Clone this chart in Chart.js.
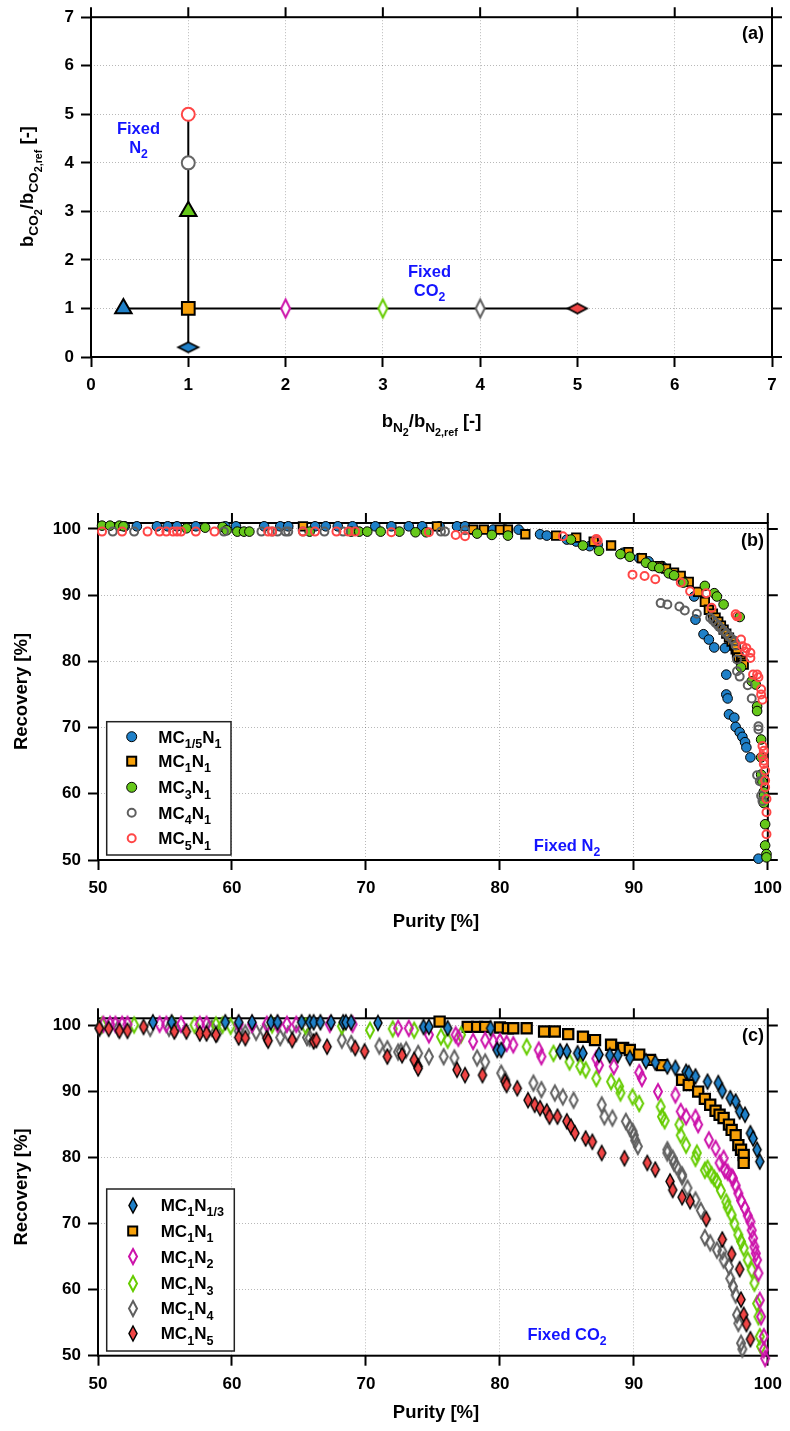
<!DOCTYPE html>
<html><head><meta charset="utf-8">
<script src="https://cdn.jsdelivr.net/npm/chart.js@4/dist/chart.umd.min.js"></script>
<style>
html,body{margin:0;padding:0;background:#fff;}
body{width:790px;height:1431px;position:relative;overflow:hidden;}
canvas{position:absolute;left:0;}
</style></head><body>
<canvas id="ca" width="790" height="450" style="top:0px;width:790px;height:450px"></canvas>
<canvas id="cb" width="790" height="480" style="top:460px;width:790px;height:480px"></canvas>
<canvas id="cc" width="790" height="481" style="top:950px;width:790px;height:481px"></canvas>
<script>
// ================= DATA =================
// Panel (a): parameter map
const a_ticks = [0,1,2,3,4,5,6,7];
const a_bN2  = [1, 1, 1, 1, 1, 0.333, 2, 3, 4, 5];
const a_bCO2 = [0.2, 1, 3, 4, 5, 1, 1, 1, 1, 1];
const a_lineFixedN2_x = [1, 1];
const a_lineFixedN2_y = [0.2, 5];
const a_lineFixedCO2_x = [0.333, 5];
const a_lineFixedCO2_y = [1, 1];

// Panel (b): Fixed N2  (purity %, recovery %)
const pr_ticks = [50,60,70,80,90,100];
const b_MC15N1_pur = [52.0,52.9,54.4,55.2,55.9,57.3,59.5,60.3,62.4,63.6,64.2,66.2,67.0,67.9,69.0,70.7,71.9,73.2,74.2,75.5,76.8,77.4,79.5,80.4,81.4,83.0,83.5,85.0,85.7,86.7,87.3,89.2,90.4,91.1,92.1,92.9,93.6,94.5,94.6,95.2,95.6,96.0,96.8,96.9,96.9,97.0,97.1,97.5,97.6,97.9,98.1,98.3,98.4,98.7,99.3];
const b_MC15N1_rec = [100.4,100.4,100.4,100.4,100.4,100.4,100.4,100.4,100.4,100.4,100.4,100.4,100.4,100.4,100.4,100.4,100.4,100.4,100.4,100.4,100.4,100.4,99.9,99.9,99.9,99.2,99.0,98.4,98.1,97.4,97.6,96.4,95.6,95.1,94.4,93.1,92.4,89.8,86.3,84.1,83.3,82.1,82.0,78.0,75.0,74.4,72.0,71.5,70.1,69.3,68.6,67.8,67.0,65.5,50.2];
const b_MC1N1_pur = [65.3,75.3,78.0,78.8,80.0,80.6,81.9,84.2,85.7,87.0,88.3,89.6,90.6,91.9,92.4,93.0,93.5,94.1,94.8,95.3,95.6,95.9,96.1,96.3,96.5,96.7,96.9,97.1,97.3,97.5,97.6,97.7,97.8,98.0,98.1,98.2];
const b_MC1N1_rec = [100.4,100.4,99.9,99.9,99.9,99.9,99.2,99.0,98.7,98.1,97.5,96.5,95.6,94.4,94.0,93.4,92.9,92.0,90.5,89.0,87.8,87.2,86.6,86.0,85.4,84.8,84.2,83.6,83.0,82.4,81.8,81.2,80.6,80.2,79.8,79.5];
const b_MC3N1_pur = [50.3,50.9,51.6,51.9,56.6,58.0,59.3,59.6,60.4,60.9,61.3,65.8,68.9,69.5,70.1,71.1,72.5,73.7,74.5,78.3,79.4,80.6,85.3,86.2,87.4,89.0,89.7,90.9,91.4,91.9,92.6,93.0,93.7,95.3,96.0,96.2,96.7,97.9,98.0,98.8,99.1,99.2,99.2,99.5,99.5,99.5,99.6,99.7,99.7,99.7,99.8,99.8,99.9,99.9];
const b_MC3N1_rec = [100.5,100.5,100.5,100.4,100.1,100.2,100.3,99.8,99.6,99.6,99.6,99.6,99.6,99.6,99.6,99.6,99.6,99.5,99.5,99.3,99.1,99.0,98.4,97.5,96.7,96.2,95.8,94.9,94.4,94.1,93.3,93.0,91.9,91.4,90.3,89.8,88.6,86.7,79.1,77.0,76.5,73.2,72.5,68.2,65.5,62.9,61.8,60.3,59.7,58.6,55.4,52.2,50.9,50.4];
const b_MC4N1_pur = [51.1,52.7,59.4,62.2,63.0,63.4,64.0,64.2,65.3,66.9,68.3,75.6,75.9,77.4,92.0,92.5,93.4,93.8,94.7,95.7,95.9,96.1,96.3,96.5,96.7,96.9,97.1,97.3,97.5,97.6,97.7,97.7,97.9,98.5,98.8,99.3,99.3,99.2,99.4,99.5,99.6];
const b_MC4N1_rec = [99.6,99.6,99.6,99.6,99.6,99.6,99.6,99.6,99.6,99.6,99.6,99.6,99.6,99.8,88.8,88.6,88.3,87.7,87.2,86.6,86.2,85.8,85.4,85.0,84.6,84.2,83.8,83.4,83.0,82.4,80.3,78.5,77.7,76.4,74.4,70.2,69.7,62.8,61.9,59.7,58.9];
const b_MC5N1_pur = [50.3,51.8,53.7,54.6,55.1,55.6,55.9,56.2,57.3,58.7,62.7,63.0,65.3,66.2,67.8,68.7,69.2,71.9,74.7,76.7,77.4,84.7,87.2,87.3,89.9,90.8,91.6,93.5,94.2,95.4,95.8,97.6,97.7,98.0,98.1,98.3,98.4,98.7,98.7,98.9,99.2,99.3,99.5,99.5,99.6,99.6,99.6,99.7,99.7,99.7,99.8,99.8,99.8,99.9,99.9,99.9];
const b_MC5N1_rec = [99.6,99.6,99.6,99.6,99.6,99.6,99.6,99.6,99.6,99.6,99.6,99.6,99.6,99.6,99.6,99.6,99.6,99.5,99.5,99.1,98.9,98.9,98.5,98.2,93.1,92.9,92.4,91.9,90.6,90.3,88.1,87.1,86.8,83.3,82.3,81.5,82.0,80.5,81.3,78.0,78.0,77.6,75.8,75.0,74.2,67.2,65.7,66.5,65.0,64.5,63.5,62.0,61.0,59.2,57.2,53.9];

// Panel (c): Fixed CO2 (purity %, recovery %)
const c_MC1N13_pur = [54.1,55.5,59.5,60.5,61.5,62.9,63.4,65.2,65.8,66.1,66.6,67.4,68.3,68.5,68.9,70.9,74.3,74.7,76.1,79.3,79.8,80.1,84.5,85.0,85.8,86.2,87.4,88.2,88.8,89.7,90.9,91.6,92.5,93.1,93.9,94.1,94.6,95.5,96.3,96.6,97.2,97.6,97.9,98.3,98.7,98.9,99.2,99.4];
const c_MC1N13_rec = [100.5,100.5,100.5,100.5,100.5,100.5,100.5,100.5,100.5,100.5,100.5,100.5,100.5,100.5,100.5,100.4,99.8,99.8,99.6,99.6,96.3,96.3,96.1,96.1,95.8,95.8,95.6,95.5,95.5,95.1,94.6,94.4,93.8,93.6,93.0,92.8,92.3,91.5,91.3,90.1,89.0,88.5,87.0,86.5,83.7,82.9,81.2,79.4];
const c_MC1N1_pur = [75.5,77.6,78.3,78.9,80.0,80.6,81.0,82.0,83.3,84.1,85.1,86.2,87.1,88.3,89.2,89.7,90.4,91.2,92.1,93.6,94.1,94.8,95.3,95.7,96.1,96.4,96.7,97.1,97.3,97.6,97.8,98.0,98.2,98.2];
const c_MC1N1_rec = [100.6,99.8,99.8,99.8,99.7,99.6,99.6,99.6,99.1,99.1,98.7,98.3,97.8,97.1,96.6,96.3,95.6,94.8,94.0,91.8,91.0,90.0,88.9,88.0,87.1,86.5,86.0,85.0,84.2,83.4,81.9,81.2,80.4,79.2];
const c_MC1N2_pur = [50.4,50.9,51.3,51.8,52.2,54.6,55.1,56.2,57.6,58.1,60.5,61.5,62.6,63.4,64.1,64.8,67.3,69.0,72.4,73.2,74.7,76.7,76.9,78.0,78.9,79.5,80.0,80.5,81.0,82.9,83.1,87.2,87.4,88.5,90.4,90.6,91.8,93.1,93.5,93.9,94.6,94.8,95.6,96.1,96.4,96.7,96.8,97.0,97.3,97.4,97.6,97.8,98.0,98.3,98.5,98.7,98.8,98.9,99.0,99.1,99.2,99.3,99.4,99.5,99.7,99.7,99.8];
const c_MC1N2_rec = [100.2,100.2,100.2,100.2,100.2,100.2,100.2,100.2,100.2,100.2,100.2,100.2,100.2,100.2,100.2,100.2,100.2,100.2,99.6,99.6,98.6,98.6,98.1,97.6,97.8,97.6,97.6,97.3,97.1,96.3,95.3,95.0,94.0,93.8,92.9,92.0,90.0,89.5,87.0,86.2,86.1,85.0,82.7,81.4,79.2,79.9,78.1,77.8,77.1,76.9,75.8,74.6,73.5,72.3,71.2,70.3,69.0,67.8,66.5,65.5,64.5,62.5,58.4,55.9,52.9,50.9,49.6];
const c_MC1N3_pur = [50.3,52.7,55.6,57.2,58.8,59.3,59.9,63.0,65.5,68.2,70.3,72.0,73.6,75.6,76.1,77.1,82.0,84.0,85.2,86.0,86.4,87.2,88.3,88.9,89.0,89.9,90.4,92.0,92.1,92.3,93.4,93.5,93.9,94.6,94.7,95.3,95.5,95.8,96.0,96.2,96.5,96.9,97.0,97.3,97.5,97.8,98.0,98.2,98.5,98.8,99.0,99.2,99.3,99.4,99.5];
const c_MC1N3_rec = [100.1,100.1,100.1,100.1,100.1,100.1,99.9,100.1,99.9,99.9,99.3,99.5,99.3,98.3,97.8,98.6,96.8,95.8,94.5,93.8,93.3,92.0,91.5,90.8,89.8,89.2,88.2,87.7,86.2,85.6,85.0,83.4,81.9,79.9,80.7,78.1,78.4,77.4,76.9,76.4,75.0,73.3,72.5,71.3,70.0,68.3,67.3,66.3,64.5,63.0,61.0,57.9,55.9,52.9,51.4];
const c_MC1N4_pur = [50.1,51.5,53.9,55.3,55.8,58.3,58.5,58.9,60.5,61.0,61.8,62.4,63.6,64.2,64.8,65.6,65.8,68.2,68.9,71.0,71.6,72.4,72.6,73.0,73.9,74.7,75.8,76.6,78.3,78.9,80.1,80.4,82.5,83.1,84.1,84.7,85.5,87.6,87.8,88.4,89.4,89.7,89.9,90.0,90.1,90.3,92.5,92.5,92.9,93.0,93.2,93.6,93.6,94.0,94.6,95.0,95.3,95.7,96.2,96.6,96.7,97.1,97.2,97.4,97.6,97.7,97.8,98.0,98.1];
const c_MC1N4_rec = [99.6,99.6,99.6,99.6,99.6,99.6,99.6,98.8,99.2,98.9,99.0,99.2,98.2,98.7,98.8,98.2,98.1,97.8,97.3,96.9,96.5,96.0,96.1,96.3,95.8,95.3,95.3,95.1,95.1,94.5,92.8,91.8,91.3,90.3,89.8,89.2,88.7,88.0,86.2,86.0,85.5,84.5,84.0,83.4,82.6,81.7,81.2,80.7,79.9,79.2,78.6,77.4,77.1,75.4,73.6,72.0,67.9,67.1,66.0,65.8,64.5,63.5,61.7,60.5,59.2,56.2,54.9,51.9,51.0];
const c_MC1N5_pur = [50.1,50.8,51.6,52.2,53.4,55.7,56.6,57.6,58.1,58.8,60.5,61.0,62.6,62.7,64.5,66.1,66.3,67.1,69.2,69.9,71.6,72.7,73.6,73.9,73.9,76.8,77.4,78.7,80.4,80.5,81.3,82.1,82.6,83.0,83.5,83.7,84.3,85.0,85.3,85.6,86.4,86.9,87.6,89.3,91.0,91.6,92.7,92.9,93.6,94.2,95.4,96.6,97.3,97.9,98.0,98.2,98.4,98.7];
const c_MC1N5_rec = [99.6,99.5,99.2,99.2,99.8,99.1,99.1,98.8,98.8,98.6,98.2,98.1,98.1,97.7,97.8,97.6,97.8,96.8,96.6,96.1,95.3,95.5,94.8,93.8,93.5,93.3,92.5,92.5,91.5,91.0,90.5,88.7,88.0,87.5,87.0,86.2,86.2,85.5,84.7,83.7,82.9,82.4,80.7,79.9,79.2,78.2,76.4,75.1,74.0,73.4,70.7,67.6,65.4,63.1,58.5,56.2,54.8,52.5];

// ================= HELPERS =================
const FAM = '"Liberation Sans", Arial, Helvetica, sans-serif';
const fnt = s => 'bold ' + s + 'px ' + FAM;
const zip = (xs, ys) => xs.map((x, i) => ({x: x, y: ys[i]}));

const COL = {
  blue: '#1f80c8', orange: '#f7a10a', green: '#66c81a', grey: '#5f5f5f',
  red: '#ff4646', magenta: '#cc12aa', lime: '#66cc00', redF: '#f04545', txtBlue: '#1414ff'
};

function diamondImg(w, h, fill, stroke, lw) {
  const pad = Math.ceil(lw) + 1;
  const c = document.createElement('canvas');
  c.width = w + 2 * pad; c.height = h + 2 * pad;
  const g = c.getContext('2d');
  const cx = c.width / 2, cy = c.height / 2;
  g.beginPath();
  g.moveTo(cx, cy - h / 2); g.lineTo(cx + w / 2, cy); g.lineTo(cx, cy + h / 2); g.lineTo(cx - w / 2, cy);
  g.closePath();
  if (fill) { g.fillStyle = fill; g.fill(); }
  g.lineWidth = lw; g.strokeStyle = stroke; g.lineJoin = 'miter'; g.stroke();
  return c;
}

// rich text with subscripts: segs = [[text, level], ...]
function drawRich(ctx, segs, x, yMid, align, base, color) {
  const sizes = [base, base * 0.74, base * 0.58];
  const dys = [0, base * 0.3, base * 0.5];
  let total = 0; const ws = [];
  for (const [t, l] of segs) { ctx.font = fnt(sizes[l]); const w = ctx.measureText(t).width; ws.push(w); total += w; }
  let cx = align === 'center' ? x - total / 2 : (align === 'right' ? x - total : x);
  const baseY = yMid + base * 0.36;
  ctx.fillStyle = color || '#000';
  ctx.textAlign = 'left'; ctx.textBaseline = 'alphabetic';
  segs.forEach(([t, l], i) => { ctx.font = fnt(sizes[l]); ctx.fillText(t, cx, baseY + dys[l]); cx += ws[i]; });
}

function axis(min, max, ticks, fit, isY) {
  return {
    type: 'linear', min: min, max: max,
    afterBuildTicks: s => { s.ticks = ticks.map(v => ({value: v})); },
    afterFit: s => { if (isY) s.width = fit; else s.height = fit; },
    grid: { color: 'rgba(0,0,0,0.28)', lineWidth: 1, drawTicks: true, tickLength: 10, tickWidth: 2, tickColor: '#000', tickBorderDash: [] },
    border: { display: false, dash: [1, 2] },
    ticks: { color: '#000', font: { family: FAM, size: 17, weight: 'bold' }, padding: isY ? 7 : 8, maxRotation: 0, autoSkip: false }
  };
}

const framePlugin = {
  id: 'frame',
  beforeDatasetsDraw(chart) {
    const {ctx, chartArea: a, scales: {x, y}} = chart;
    ctx.save();
    ctx.strokeStyle = '#000'; ctx.lineWidth = 2; ctx.setLineDash([]);
    ctx.strokeRect(a.left, a.top, a.right - a.left, a.bottom - a.top);
    ctx.beginPath();
    for (const t of x.ticks) { const px = x.getPixelForValue(t.value); ctx.moveTo(px, a.top); ctx.lineTo(px, a.top - 10); }
    for (const t of y.ticks) { const py = y.getPixelForValue(t.value); if (py < a.top) continue; ctx.moveTo(a.right, py); ctx.lineTo(a.right + 10, py); }
    ctx.stroke();
    ctx.restore();
  }
};

function textPlugin(id, drawFn) { return { id: id, afterDraw(chart) { const ctx = chart.ctx; ctx.save(); drawFn(ctx, chart); ctx.restore(); } }; }

function drawLegendBox(ctx, box, rows, markerX, textX) {
  ctx.fillStyle = '#fff';
  ctx.fillRect(box[0], box[1], box[2] - box[0], box[3] - box[1]);
  ctx.strokeStyle = '#222'; ctx.lineWidth = 1.5; ctx.setLineDash([]);
  ctx.strokeRect(box[0], box[1], box[2] - box[0], box[3] - box[1]);
  for (const r of rows) {
    r.marker(ctx, markerX, r.y);
    drawRich(ctx, r.label, textX, r.y, 'left', 17);
  }
}
function mCircle(fill, stroke, lw, rad) {
  return (ctx, x, y) => { ctx.beginPath(); ctx.arc(x, y, rad, 0, Math.PI * 2); if (fill) { ctx.fillStyle = fill; ctx.fill(); } ctx.lineWidth = lw; ctx.strokeStyle = stroke; ctx.stroke(); };
}
function mRect(fill, stroke, lw, half) {
  return (ctx, x, y) => { ctx.fillStyle = fill; ctx.fillRect(x - half, y - half, 2 * half, 2 * half); ctx.lineWidth = lw; ctx.strokeStyle = stroke; ctx.strokeRect(x - half, y - half, 2 * half, 2 * half); };
}
function mImg(img) { return (ctx, x, y) => { ctx.drawImage(img, Math.round(x - img.width / 2), Math.round(y - img.height / 2)); }; }

const baseOpts = {
  responsive: false, animation: false, events: [], devicePixelRatio: 1,
  plugins: { legend: { display: false }, tooltip: { enabled: false } }
};

// ================= PANEL (a) =================
const aStyles = {
  pointStyle: [
    diamondImg(20, 10, COL.blue, '#000', 1.8), 'rect', 'triangle', 'circle', 'circle',
    'triangle', diamondImg(9, 18, '#fff', COL.magenta, 2), diamondImg(9, 18, '#fff', COL.lime, 2),
    diamondImg(9, 18, '#fff', COL.grey, 2), diamondImg(19, 10, COL.redF, '#000', 1.8)
  ],
  radius: [6, 9, 9.5, 6.5, 6.5, 9.5, 6, 6, 6, 6],
  bg: ['#fff', COL.orange, COL.green, '#fff', '#fff', COL.blue, '#fff', '#fff', '#fff', '#fff'],
  border: ['#000', '#000', '#000', '#666', COL.red, '#000', '#000', '#000', '#000', '#000'],
  bw: [1, 2, 2, 2, 2, 2, 1, 1, 1, 1]
};
new Chart(document.getElementById('ca'), {
  type: 'scatter',
  data: { datasets: [
    { data: zip(a_bN2, a_bCO2), pointStyle: aStyles.pointStyle, pointRadius: aStyles.radius,
      backgroundColor: aStyles.bg, borderColor: aStyles.border, borderWidth: aStyles.bw, order: 1, clip: false },
    { data: zip(a_lineFixedN2_x, a_lineFixedN2_y), showLine: true, pointRadius: 0, borderColor: '#000', borderWidth: 2, order: 5 },
    { data: zip(a_lineFixedCO2_x, a_lineFixedCO2_y), showLine: true, pointRadius: 0, borderColor: '#000', borderWidth: 2, order: 5 }
  ]},
  options: Object.assign({}, baseOpts, {
    layout: { padding: { left: 0, top: 16, right: 18, bottom: 0 } },
    scales: { x: axis(0, 7, a_ticks, 93, false), y: axis(0, 7, a_ticks, 91, true) }
  }),
  plugins: [framePlugin, textPlugin('ta', (ctx) => {
    ctx.save(); ctx.translate(26, 186.5); ctx.rotate(-Math.PI / 2);
    drawRich(ctx, [['b', 0], ['CO', 1], ['2', 2], ['/b', 0], ['CO', 1], ['2,ref', 2], [' [-]', 0]], 0, 0, 'center', 18.5);
    ctx.restore();
    drawRich(ctx, [['b', 0], ['N', 1], ['2', 2], ['/b', 0], ['N', 1], ['2,ref', 2], [' [-]', 0]], 431.5, 420, 'center', 18.5);
    drawRich(ctx, [['(a)', 0]], 764, 33, 'right', 18);
    drawRich(ctx, [['Fixed', 0]], 138.5, 128.5, 'center', 16.5, COL.txtBlue);
    drawRich(ctx, [['N', 0], ['2', 1]], 138.5, 147, 'center', 16.5, COL.txtBlue);
    drawRich(ctx, [['Fixed', 0]], 429.5, 271.5, 'center', 16.5, COL.txtBlue);
    drawRich(ctx, [['CO', 0], ['2', 1]], 429.5, 290, 'center', 16.5, COL.txtBlue);
  })]
});

// ================= PANEL (b) =================
new Chart(document.getElementById('cb'), {
  type: 'scatter',
  data: { datasets: [
    { data: zip(b_MC15N1_pur, b_MC15N1_rec), pointStyle: 'circle', pointRadius: 4.8, backgroundColor: COL.blue, borderColor: '#000', borderWidth: 1, order: 5, clip: false },
    { data: zip(b_MC1N1_pur, b_MC1N1_rec), pointStyle: 'rect', pointRadius: 6, backgroundColor: COL.orange, borderColor: '#000', borderWidth: 1.8, order: 4, clip: false },
    { data: zip(b_MC3N1_pur, b_MC3N1_rec), pointStyle: 'circle', pointRadius: 4.8, backgroundColor: COL.green, borderColor: '#000', borderWidth: 1, order: 3, clip: false },
    { data: zip(b_MC4N1_pur, b_MC4N1_rec), pointStyle: 'circle', pointRadius: 4, backgroundColor: 'rgba(0,0,0,0)', borderColor: COL.grey, borderWidth: 2, order: 2, clip: false },
    { data: zip(b_MC5N1_pur, b_MC5N1_rec), pointStyle: 'circle', pointRadius: 4, backgroundColor: 'rgba(0,0,0,0)', borderColor: COL.red, borderWidth: 2, order: 1, clip: false }
  ]},
  options: Object.assign({}, baseOpts, {
    layout: { padding: { left: 0, top: 63, right: 17, bottom: 0 } },
    scales: { x: axis(50, 100, pr_ticks, 80, false), y: axis(50, 100.9, pr_ticks, 98, true) }
  }),
  plugins: [framePlugin, textPlugin('tb', (ctx) => {
    ctx.save(); ctx.translate(20, 231.5); ctx.rotate(-Math.PI / 2);
    drawRich(ctx, [['Recovery [%]', 0]], 0, 0, 'center', 18.5);
    ctx.restore();
    drawRich(ctx, [['Purity [%]', 0]], 436, 460, 'center', 18.5);
    drawRich(ctx, [['(b)', 0]], 764, 80, 'right', 18);
    drawRich(ctx, [['Fixed N', 0], ['2', 1]], 567, 385, 'center', 16.5, COL.txtBlue);
    drawLegendBox(ctx, [106.7, 261.7, 231, 395], [
      { y: 276.7, marker: mCircle(COL.blue, '#000', 1, 5), label: [['MC', 0], ['1/5', 1], ['N', 0], ['1', 1]] },
      { y: 301.2, marker: mRect(COL.orange, '#000', 2, 4.5), label: [['MC', 0], ['1', 1], ['N', 0], ['1', 1]] },
      { y: 327.3, marker: mCircle(COL.green, '#000', 1, 5), label: [['MC', 0], ['3', 1], ['N', 0], ['1', 1]] },
      { y: 352.7, marker: mCircle(null, COL.grey, 2, 4), label: [['MC', 0], ['4', 1], ['N', 0], ['1', 1]] },
      { y: 378.3, marker: mCircle(null, COL.red, 2, 4), label: [['MC', 0], ['5', 1], ['N', 0], ['1', 1]] }
    ], 131.7, 158.3);
  })]
});

// ================= PANEL (c) =================
const dBlue = diamondImg(8, 15, COL.blue, '#000', 1.5);
const dMag = diamondImg(8, 15, null, COL.magenta, 2);
const dLime = diamondImg(8, 15, null, COL.lime, 2);
const dGrey = diamondImg(8, 15, null, COL.grey, 2);
const dRed = diamondImg(8, 15, COL.redF, '#000', 1.5);
new Chart(document.getElementById('cc'), {
  type: 'scatter',
  data: { datasets: [
    { data: zip(c_MC1N13_pur, c_MC1N13_rec), pointStyle: dBlue, pointRadius: 5, order: 2, clip: false },
    { data: zip(c_MC1N1_pur, c_MC1N1_rec), pointStyle: 'rect', pointRadius: 7.2, backgroundColor: COL.orange, borderColor: '#000', borderWidth: 2.2, order: 6, clip: false },
    { data: zip(c_MC1N2_pur, c_MC1N2_rec), pointStyle: dMag, pointRadius: 5, order: 3, clip: false },
    { data: zip(c_MC1N3_pur, c_MC1N3_rec), pointStyle: dLime, pointRadius: 5, order: 4, clip: false },
    { data: zip(c_MC1N4_pur, c_MC1N4_rec), pointStyle: dGrey, pointRadius: 5, order: 5, clip: false },
    { data: zip(c_MC1N5_pur, c_MC1N5_rec), pointStyle: dRed, pointRadius: 5, order: 1, clip: false }
  ]},
  options: Object.assign({}, baseOpts, {
    layout: { padding: { left: 0, top: 68.3, right: 17, bottom: 0 } },
    scales: { x: axis(50, 100, pr_ticks, 75.3, false), y: axis(50, 101.1, pr_ticks, 98, true) }
  }),
  plugins: [framePlugin, textPlugin('tc', (ctx) => {
    ctx.save(); ctx.translate(20, 237); ctx.rotate(-Math.PI / 2);
    drawRich(ctx, [['Recovery [%]', 0]], 0, 0, 'center', 18.5);
    ctx.restore();
    drawRich(ctx, [['Purity [%]', 0]], 436, 461, 'center', 18.5);
    drawRich(ctx, [['(c)', 0]], 764, 85, 'right', 18);
    drawRich(ctx, [['Fixed CO', 0], ['2', 1]], 567, 384, 'center', 16.5, COL.txtBlue);
    drawLegendBox(ctx, [106.7, 239, 234.3, 401], [
      { y: 255, marker: mImg(dBlue), label: [['MC', 0], ['1', 1], ['N', 0], ['1/3', 1]] },
      { y: 281, marker: mRect(COL.orange, '#000', 2, 4.5), label: [['MC', 0], ['1', 1], ['N', 0], ['1', 1]] },
      { y: 306.7, marker: mImg(dMag), label: [['MC', 0], ['1', 1], ['N', 0], ['2', 1]] },
      { y: 333.3, marker: mImg(dLime), label: [['MC', 0], ['1', 1], ['N', 0], ['3', 1]] },
      { y: 358.3, marker: mImg(dGrey), label: [['MC', 0], ['1', 1], ['N', 0], ['4', 1]] },
      { y: 383.3, marker: mImg(dRed), label: [['MC', 0], ['1', 1], ['N', 0], ['5', 1]] }
    ], 132.7, 160.7);
  })]
});
</script>
</body></html>
